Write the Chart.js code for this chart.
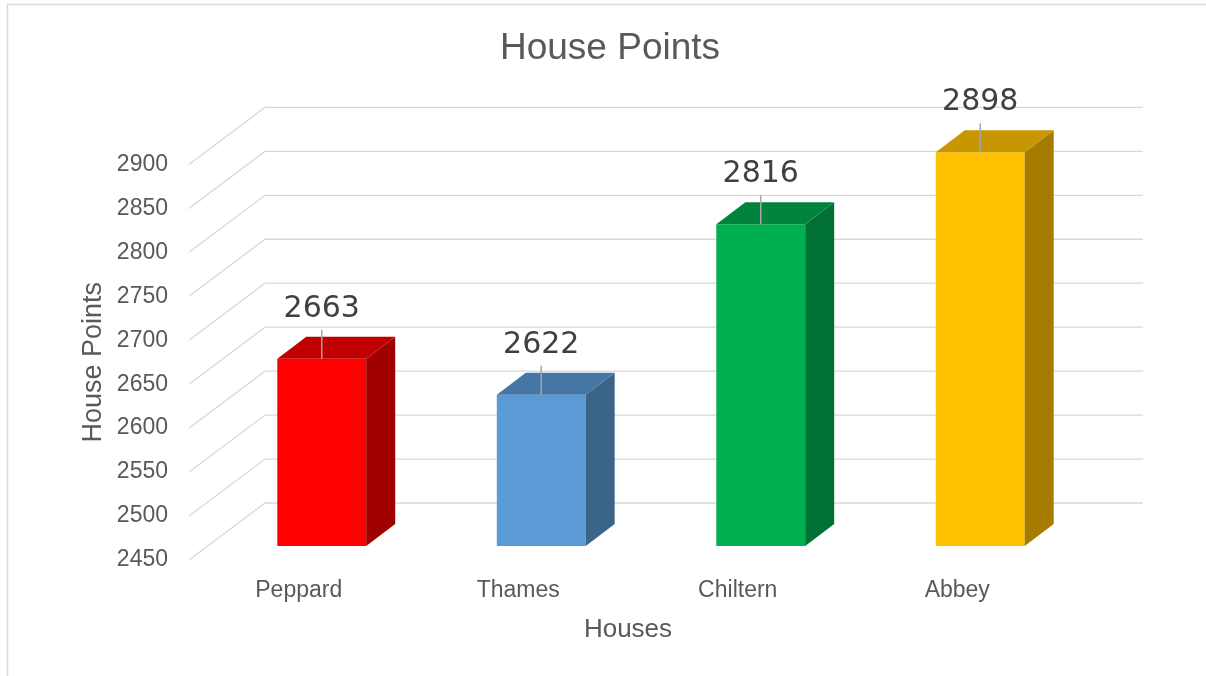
<!DOCTYPE html>
<html>
<head>
<meta charset="utf-8">
<script src="https://cdn.jsdelivr.net/npm/chart.js@4/dist/chart.umd.min.js"></script>
<style>
  html, body { margin: 0; padding: 0; background: #fff; }
  canvas { display: block; }
</style>
</head>
<body>
<canvas id="chart" width="1206" height="676"></canvas>
<script>
const houses = ['Peppard', 'Thames', 'Chiltern', 'Abbey'];
const points = [2663, 2622, 2816, 2898];
const frontColors = ['#FF0000', '#5B9BD5', '#00B050', '#FFC000'];
const topColors = ['#C00000', '#4576A6', '#00843C', '#C79600'];
const sideColors = ['#A00000', '#3A6488', '#007034', '#A67C00'];
const yMin = 2450;
const yMax = 2900;
const yStep = 50;

// fake 3d offsets (px)
const WALL = { dx: 76, dy: -57 };
const BAR_SHIFT = { dx: 23, dy: -14 };
const BAR_DEPTH = { dx: 29, dy: -22 };

const GRID = '#D9D9D9';
const TEXT = '#595959';

const frame3d = {
  id: 'frame3d',
  beforeDraw(chart) {
    const ctx = chart.ctx;
    ctx.save();
    ctx.strokeStyle = GRID;
    ctx.lineWidth = 1.5;
    ctx.strokeRect(7.5, 4.5, 1220, 700);
    ctx.restore();
  },
  beforeDatasetsDraw(chart) {
    const { ctx, chartArea, scales } = chart;
    const y = scales.y;
    ctx.save();
    ctx.strokeStyle = GRID;
    ctx.lineWidth = 1.3;
    for (let v = yMin; v <= yMax; v += yStep) {
      const py = y.getPixelForValue(v);
      ctx.beginPath();
      ctx.moveTo(chartArea.left, py);
      ctx.lineTo(chartArea.left + WALL.dx, py + WALL.dy);
      ctx.lineTo(chartArea.right + WALL.dx, py + WALL.dy);
      ctx.stroke();
    }
    ctx.restore();
    // front faces are drawn by chart.js, moved into the middle of the depth
    ctx.save();
    ctx.translate(BAR_SHIFT.dx, BAR_SHIFT.dy);
  },
  afterDatasetsDraw(chart) {
    const ctx = chart.ctx;
    ctx.restore();
    const bars = chart.getDatasetMeta(0).data;
    bars.forEach((bar, i) => {
      const p = bar.getProps(['x', 'y', 'base', 'width'], true);
      const l = p.x - p.width / 2 + BAR_SHIFT.dx;
      const r = p.x + p.width / 2 + BAR_SHIFT.dx;
      const t = p.y + BAR_SHIFT.dy;
      const b = p.base + BAR_SHIFT.dy;
      // side
      ctx.fillStyle = sideColors[i];
      ctx.beginPath();
      ctx.moveTo(r, t);
      ctx.lineTo(r + BAR_DEPTH.dx, t + BAR_DEPTH.dy);
      ctx.lineTo(r + BAR_DEPTH.dx, b + BAR_DEPTH.dy);
      ctx.lineTo(r, b);
      ctx.closePath();
      ctx.fill();
      // top
      ctx.fillStyle = topColors[i];
      ctx.beginPath();
      ctx.moveTo(l, t);
      ctx.lineTo(l + BAR_DEPTH.dx, t + BAR_DEPTH.dy);
      ctx.lineTo(r + BAR_DEPTH.dx, t + BAR_DEPTH.dy);
      ctx.lineTo(r, t);
      ctx.closePath();
      ctx.fill();
      // leader line + value label
      const cx = (l + r) / 2;
      ctx.strokeStyle = '#A6A6A6';
      ctx.lineWidth = 1.5;
      ctx.beginPath();
      ctx.moveTo(cx, t - 29);
      ctx.lineTo(cx, t);
      ctx.stroke();
      ctx.fillStyle = '#404040';
      ctx.font = '30px "DejaVu Sans"';
      ctx.textAlign = 'center';
      ctx.textBaseline = 'alphabetic';
      ctx.fillText(String(points[i]), cx, t - 42);
    });
  }
};

new Chart(document.getElementById('chart'), {
  type: 'bar',
  data: {
    labels: houses,
    datasets: [{
      data: points,
      base: yMin,
      backgroundColor: frontColors,
      borderWidth: 0,
      barPercentage: 0.405,
      categoryPercentage: 1,
      clip: false
    }]
  },
  options: {
    responsive: false,
    animation: false,
    layout: {
      padding: { top: 0, left: 14, right: 0, bottom: 0 }
    },
    scales: {
      x: {
        grid: { display: false, drawTicks: false },
        border: { display: false },
        ticks: {
          color: TEXT,
          padding: 17,
          font: { family: '"Liberation Sans"', size: 23 }
        },
        title: {
          display: true,
          text: 'Houses',
          color: TEXT,
          font: { family: '"Liberation Sans"', size: 26 },
          padding: { top: 0, bottom: 31 }
        },
        afterFit(scale) { scale.height = 116; }
      },
      y: {
        min: yMin,
        max: yMax,
        beginAtZero: false,
        grid: { display: false, drawTicks: false },
        border: { display: false },
        ticks: {
          stepSize: yStep,
          color: TEXT,
          padding: 21,
          font: { family: '"Liberation Sans"', size: 23 },
          callback: (v) => String(v)
        },
        title: {
          display: true,
          text: 'House Points',
          color: TEXT,
          font: { family: '"Liberation Sans"', size: 27 },
          padding: { top: 63, bottom: 0 }
        },
        afterFit(scale) { scale.width = 175; }
      },
      // empty right axis, only reserves room for the back wall
      yRight: {
        position: 'right',
        min: yMin,
        max: yMax,
        grid: { display: false, drawTicks: false },
        border: { display: false },
        ticks: { display: false },
        afterFit(scale) { scale.width = 139; }
      }
    },
    plugins: {
      legend: { display: false },
      tooltip: { enabled: false },
      title: {
        display: true,
        text: 'House Points',
        color: TEXT,
        font: { family: '"Liberation Sans"', size: 37, weight: 'normal' },
        padding: { top: 27, bottom: 93 }
      }
    }
  },
  plugins: [frame3d]
});
</script>
</body>
</html>
